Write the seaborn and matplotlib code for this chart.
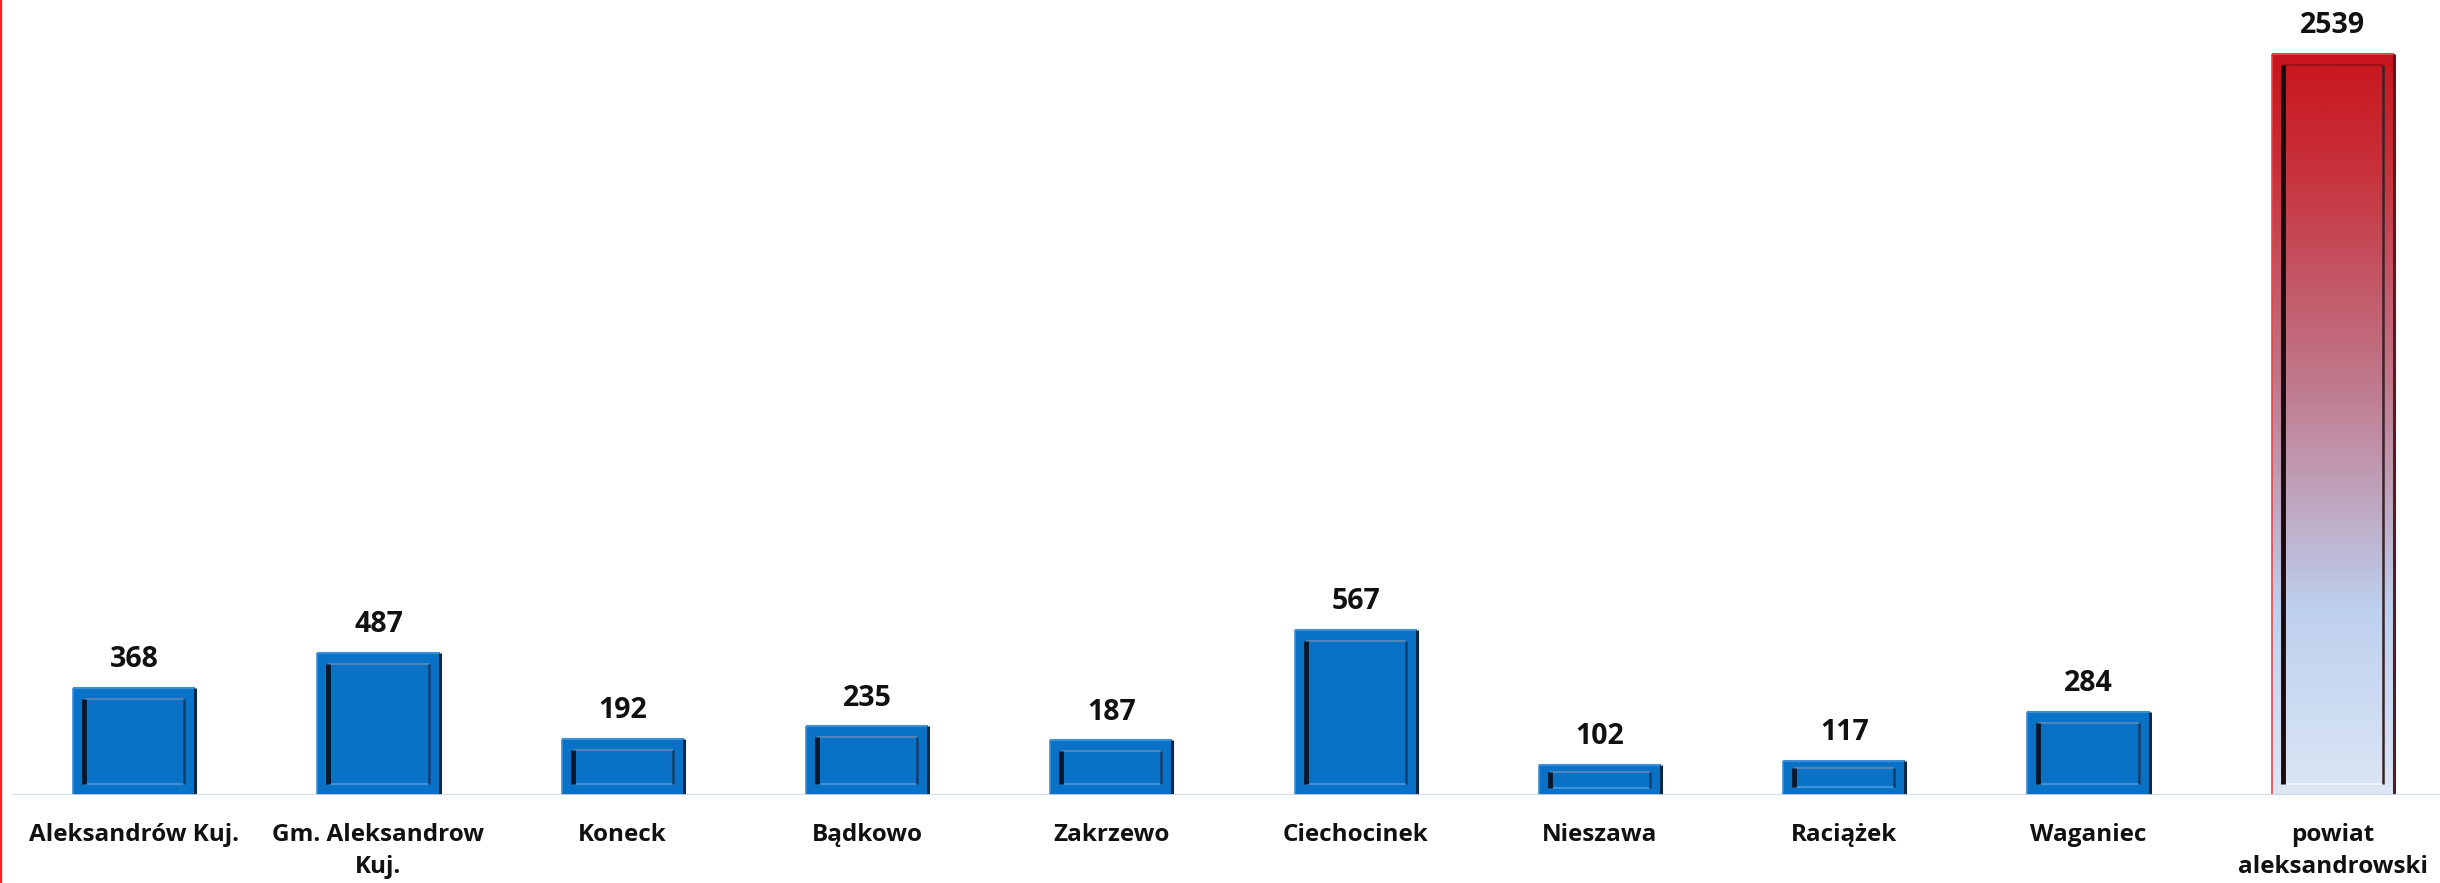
import numpy as np
import pandas as pd
import matplotlib
matplotlib.use("Agg")
import matplotlib.pyplot as plt
import seaborn as sns
from matplotlib.lines import Line2D
from matplotlib.colors import LinearSegmentedColormap

categories = ["Aleksandrów Kuj.", "Gm. Aleksandrow\nKuj.", "Koneck", "Bądkowo", "Zakrzewo",
              "Ciechocinek", "Nieszawa", "Raciążek", "Waganiec", "powiat\naleksandrowski"]
values = [368, 487, 192, 235, 187, 567, 102, 117, 284, 2539]

df = pd.DataFrame({"cat": categories, "val": values})

sns.set_theme(style="white")
plt.rcParams['font.family'] = ['Open Sans', 'DejaVu Sans']

W, H = 2440, 883
fig = plt.figure(figsize=(W / 100, H / 100), dpi=100)
ax_w_px = 2443
ax = fig.add_axes([12 / W, 88 / H, ax_w_px / W, 1 - 88 / H])

sns.barplot(data=df, x="cat", y="val", color="#0A72C6", width=0.5, ax=ax,
            saturation=1, edgecolor="none", linewidth=0)

ymax = 2724
ax.set_ylim(0, ymax)
ax.set_xlim(-0.5, 9.5)
for s in ax.spines.values():
    s.set_visible(False)
ax.set_yticks([])
ax.set_xlabel("")
ax.set_ylabel("")
ax.tick_params(axis="x", length=0, pad=20)
for t in ax.get_xticklabels():
    t.set_fontsize(17.5)
    t.set_fontweight("bold")
    t.set_color("#111111")
    t.set_linespacing(1.45)

ax.axhline(0, color="#C9DAF0", lw=2, zorder=6)

cmap = LinearSegmentedColormap.from_list(
    "rb", [(0.0, "#DCE6F5"), (0.25, "#BDD0EE"), (0.55, "#C07A8E"), (0.85, "#C8303A"), (1.0, "#C8141C")])

px_per_x = ax_w_px / 10.0
px_per_y = (H - 88) / ymax
patches = list(ax.patches)
for i, p in enumerate(patches):
    x0, w, h = p.get_x(), p.get_width(), p.get_height()
    red = (i == len(patches) - 1)
    fx = 11 / px_per_x
    fy = min(11 / px_per_y, h * 0.22)
    if red:
        p.set_facecolor("none")
        grad = np.linspace(0, 1, 256).reshape(-1, 1)
        im = ax.imshow(grad, cmap=cmap, origin="lower", aspect="auto",
                       extent=[x0, x0 + w, 0, h], zorder=2)
        im.set_clip_path(p)
        c_top, c_redge, c_bot = "#E04848", "#5A1A22", "#9AAAC0"
        c_il, c_ir, c_it, c_ib = "#1A0A0E", "#3A2228", "#A01018", "#EEF3FA"
    else:
        c_top, c_redge, c_bot = "#3C8ED8", "#0B2845", "#0B2A4A"
        c_il, c_ir, c_it, c_ib = "#06182C", "#123E6A", "#4E86BC", "#3A92DE"
    # outer rim
    ax.plot([x0, x0 + w], [h, h], color=c_top, lw=1.5, zorder=4, solid_capstyle="butt")
    ax.plot([x0, x0], [0, h], color=c_top, lw=1.2, zorder=4, solid_capstyle="butt")
    ax.plot([x0 + w, x0 + w], [0, h], color=c_redge, lw=2.2, zorder=4, solid_capstyle="butt")
    ax.plot([x0, x0 + w], [0, 0], color=c_bot, lw=1.5, zorder=4, solid_capstyle="butt")
    # inner frame
    ix0, ix1 = x0 + fx, x0 + w - fx
    iy0, iy1 = fy, h - fy
    ax.plot([ix0, ix1], [iy1, iy1], color=c_it, lw=1.5, zorder=4, solid_capstyle="butt")
    ax.plot([ix0, ix1], [iy0, iy0], color=c_ib, lw=1.5, zorder=4, solid_capstyle="butt")
    ax.plot([ix0, ix0], [iy0, iy1], color=c_il, lw=3.5, zorder=5, solid_capstyle="butt")
    ax.plot([ix1, ix1], [iy0, iy1], color=c_ir, lw=1.8, zorder=5, solid_capstyle="butt")
    ax.annotate(f"{values[i]}", (x0 + w / 2, h), xytext=(0, 10), textcoords="offset points",
                ha="center", va="bottom", fontsize=20.5, fontweight="bold", color="#111111")

fig.add_artist(Line2D([0.0006, 0.0006], [0, 1], color="#FF2020", lw=1.6, transform=fig.transFigure))

fig.savefig("out.png", dpi=100, facecolor="white")
